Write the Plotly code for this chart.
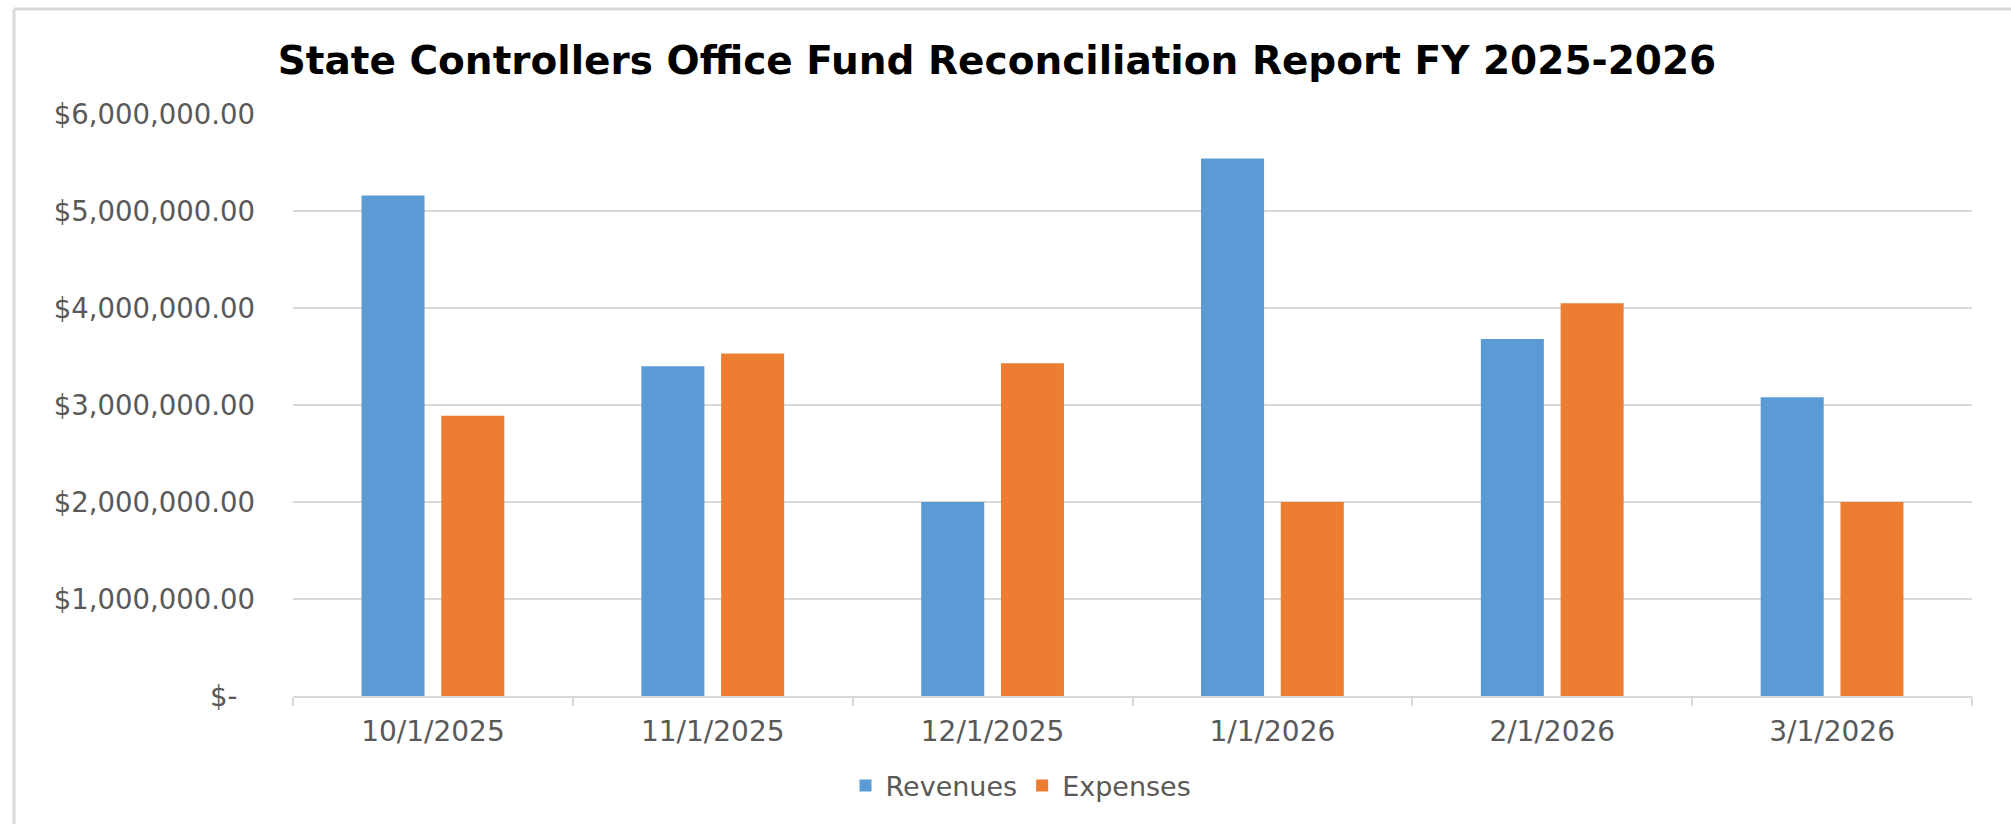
import plotly.graph_objects as go

categories = ["10/1/2025", "11/1/2025", "12/1/2025", "1/1/2026", "2/1/2026", "3/1/2026"]
revenues = [5160000, 3400000, 2000000, 5540000, 3680000, 3080000]
expenses = [2890000, 3530000, 3430000, 2000000, 4050000, 2000000]
y_tickvals = [0, 1000000, 2000000, 3000000, 4000000, 5000000, 6000000]
y_ticktext = ["$-\u00a0\u00a0", "$1,000,000.00", "$2,000,000.00", "$3,000,000.00",
              "$4,000,000.00", "$5,000,000.00", "$6,000,000.00"]
title_text = "State Controllers Office Fund Reconciliation Report FY 2025-2026"

W, H = 2011, 824
FONT = "DejaVu Sans"
GRAY_TXT = "#595959"
GRID = "#d9d9d9"

fig = go.Figure()
fig.add_trace(go.Bar(name="Revenues", x=categories, y=revenues, marker_color="#5B9BD5",
                     marker_line_width=0))
fig.add_trace(go.Bar(name="Expenses", x=categories, y=expenses, marker_color="#ED7D31",
                     marker_line_width=0))

fig.update_layout(
    width=W, height=H,
    margin=dict(l=293, r=39, t=114, b=128, pad=0),
    paper_bgcolor="white", plot_bgcolor="white",
    barmode="group", bargap=0.43, bargroupgap=0.21,
    title=dict(text=title_text, x=997 / W, xanchor="center", xref="container",
               y=1 - 60 / H, yanchor="middle", yref="container",
               font=dict(family=FONT, size=39, color="#000000", weight="bold")),
    legend=dict(orientation="h", x=1021 / W, xanchor="center", xref="container",
                y=1 - 786 / H, yanchor="middle", yref="container",
                font=dict(family=FONT, size=27, color=GRAY_TXT),
                bgcolor="rgba(0,0,0,0)", itemsizing="constant"),
    showlegend=True,
)

fig.update_xaxes(
    showgrid=False, showline=True, linecolor=GRID, linewidth=2,
    ticks="outside", tickson="boundaries", ticklen=8, tickcolor=GRID, tickwidth=2,
    tickfont=dict(family=FONT, size=28, color=GRAY_TXT), ticklabelstandoff=9,
)
fig.update_yaxes(
    range=[0, 6000000], tickvals=y_tickvals, ticktext=y_ticktext,
    showgrid=True, gridcolor=GRID, gridwidth=2, zeroline=False, showline=False,
    ticks="", tickfont=dict(family=FONT, size=27.5, color=GRAY_TXT), ticklabelstandoff=37,
)

# chart frame (top and left border lines)
PW = W - 293 - 39
PH = H - 114 - 128
fig.add_shape(type="line", xref="paper", yref="paper",
              x0=(14 - 293) / PW, x1=(W - 293) / PW,
              y0=(H - 128 - 9) / PH, y1=(H - 128 - 9) / PH,
              line=dict(color=GRID, width=3))
fig.add_shape(type="line", xref="paper", yref="paper",
              x0=(14 - 293) / PW, x1=(14 - 293) / PW,
              y0=(H - 128 - 9) / PH, y1=(-128) / PH,
              line=dict(color=GRID, width=3))

fig.write_html("out.html")
